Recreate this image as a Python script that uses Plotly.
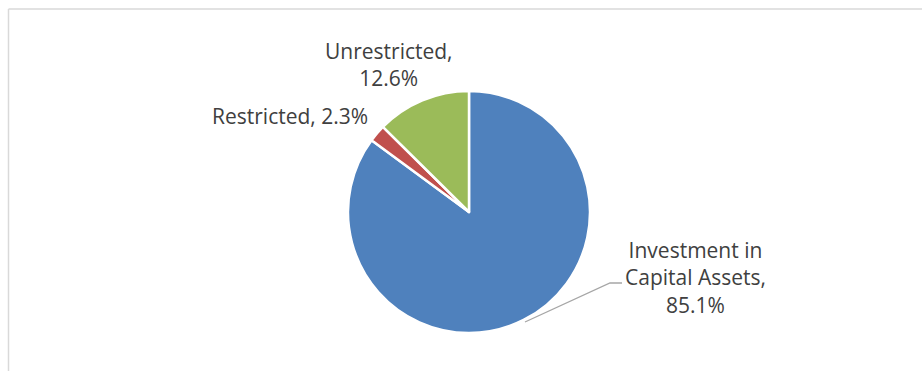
import plotly.graph_objects as go

categories = ["Investment in Capital Assets", "Restricted", "Unrestricted"]
values = [85.1, 2.3, 12.6]
colors = ["#4F81BD", "#C0504D", "#9BBB59"]
label_text = ["Investment in<br>Capital Assets,<br>85.1%", "Restricted, 2.3%", "Unrestricted,<br>12.6%"]

W, H = 922, 371
cx, cy, r = 469, 212, 121

def px(x):
    return x / W

def py(y):
    return 1 - y / H

fig = go.Figure(go.Pie(
    labels=categories,
    values=values,
    sort=False,
    direction="clockwise",
    rotation=0,
    marker=dict(colors=colors, line=dict(color="white", width=2.5)),
    textinfo="none",
    hoverinfo="label+percent",
    showlegend=False,
    domain=dict(x=[px(cx - r), px(cx + r)], y=[py(cy + r), py(cy - r)]),
))

font = dict(family="Open Sans, Noto Sans, sans-serif", size=21, color="#404040")
label_pos = [(695, 277), (290, 116), (389, 64)]
for txt, (lx, ly) in zip(label_text, label_pos):
    fig.add_annotation(x=px(lx), y=py(ly), xref="paper", yref="paper", text=txt,
                       showarrow=False, font=font, align="center",
                       xanchor="center", yanchor="middle")

# leader line for the large slice
fig.add_shape(type="path", xref="paper", yref="paper",
              path=f"M {px(525)} {py(322)} L {px(610)} {py(283)} L {px(622)} {py(283)}",
              line=dict(color="#A6A6A6", width=1.3))

# chart frame (top and left edges visible)
fig.add_shape(type="line", xref="paper", yref="paper", x0=px(8.5), y0=py(9), x1=1, y1=py(9),
              line=dict(color="#D9D9D9", width=1.5))
fig.add_shape(type="line", xref="paper", yref="paper", x0=px(8.5), y0=py(9), x1=px(8.5), y1=0,
              line=dict(color="#D9D9D9", width=1.5))

fig.update_layout(width=W, height=H, margin=dict(l=0, r=0, t=0, b=0),
                  paper_bgcolor="white", plot_bgcolor="white")

fig.write_html("out.html")
